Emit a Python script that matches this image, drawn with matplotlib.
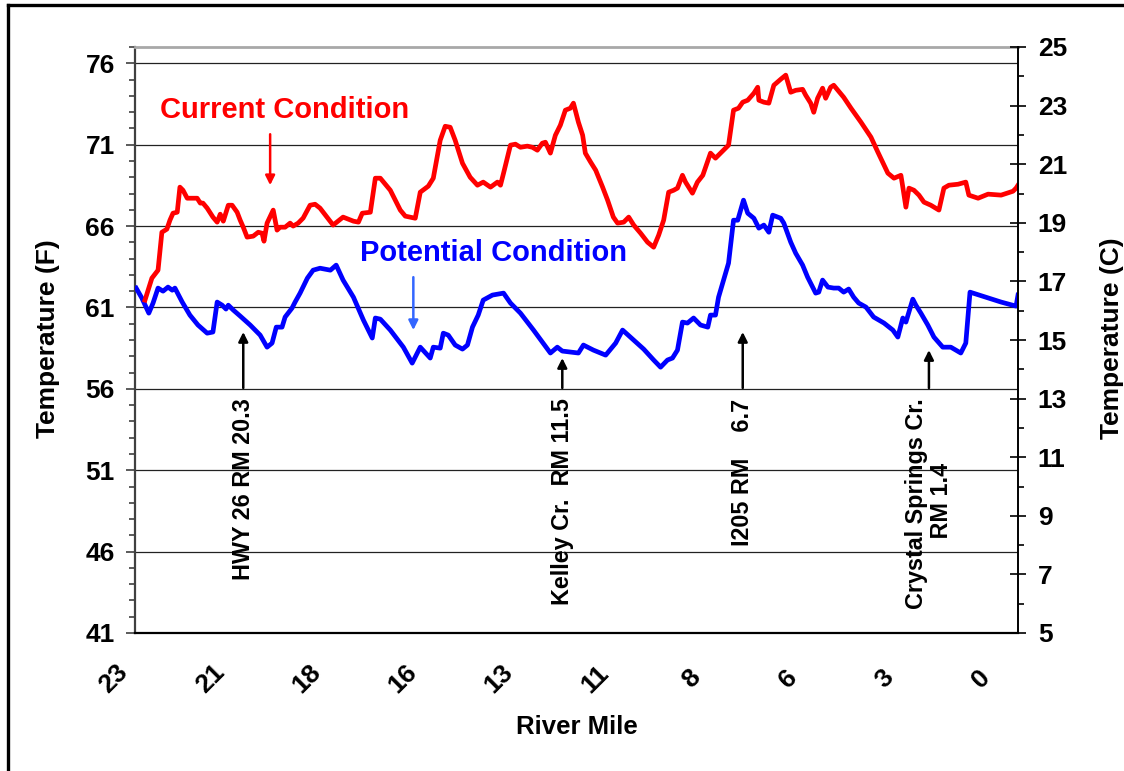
import matplotlib
matplotlib.use('Agg')
import matplotlib.pyplot as plt
import numpy as np
from matplotlib.lines import Line2D
from matplotlib.ticker import MultipleLocator, FixedLocator

plt.rcParams['font.family'] = ['Liberation Sans', 'DejaVu Sans']
plt.rcParams['font.weight'] = 'bold'

# ---------------- data ----------------
# Current Condition (river mile, temperature F)
cur_rm = [22.74, 22.56, 22.40, 22.30, 22.17, 22.09, 22.01, 21.90, 21.83, 21.75, 21.64, 21.49,
          21.38, 21.30, 21.23, 21.12, 20.97, 20.86, 20.78, 20.70, 20.57, 20.47, 20.34, 20.26,
          20.18, 20.08, 19.92, 19.79, 19.69, 19.64, 19.56, 19.40, 19.30, 19.22, 19.09, 18.96,
          18.88, 18.75, 18.62, 18.44, 18.31, 18.18, 17.84, 17.58, 17.31, 17.18, 17.08, 16.87,
          16.74, 16.61, 16.35, 16.09, 15.96, 15.70, 15.57, 15.36, 15.23, 15.05, 14.92, 14.79,
          14.66, 14.47, 14.27, 14.08, 13.93, 13.74, 13.56, 13.48, 13.40, 13.22, 13.09, 12.96,
          12.78, 12.65, 12.52, 12.39, 12.31, 12.18, 12.05, 11.92, 11.79, 11.66, 11.58, 11.45,
          11.34, 11.27, 11.13, 11.00, 10.82, 10.69, 10.54, 10.43, 10.27, 10.14, 10.01, 9.83,
          9.65, 9.49, 9.36, 9.23, 9.10, 8.97, 8.87, 8.74, 8.66, 8.48, 8.35, 8.21, 8.01, 7.88,
          7.54, 7.41, 7.28, 7.17, 7.04, 6.88, 6.78, 6.75, 6.62, 6.49, 6.36, 6.18, 6.05, 5.92,
          5.79, 5.61, 5.53, 5.40, 5.32, 5.22, 5.09, 5.01, 4.88, 4.80, 4.54, 4.35, 4.09, 3.83,
          3.65, 3.39, 3.23, 3.05, 3.00, 2.92, 2.84, 2.71, 2.58, 2.45, 2.27, 2.06, 1.93, 1.80,
          1.56, 1.36, 1.28, 1.04, 0.78, 0.44, 0.13, 0.05, 0.00]
cur_f = [61.45, 62.80, 63.29, 65.62, 65.81, 66.36, 66.79, 66.85, 68.39, 68.20, 67.71, 67.71,
         67.71, 67.41, 67.41, 67.10, 66.55, 66.24, 66.73, 66.30, 67.28, 67.28, 66.85, 66.36,
         65.93, 65.32, 65.38, 65.62, 65.56, 65.07, 66.18, 66.98, 65.75, 65.93, 65.93, 66.18,
         66.00, 66.18, 66.49, 67.28, 67.34, 67.10, 66.06, 66.55, 66.30, 66.24, 66.79, 66.85,
         68.94, 68.94, 68.20, 66.98, 66.61, 66.48, 68.08, 68.45, 68.94, 71.27, 72.13, 72.07,
         71.27, 69.86, 69.00, 68.51, 68.70, 68.39, 68.70, 68.51, 69.25, 70.97, 71.03, 70.84,
         70.91, 70.84, 70.66, 71.09, 71.15, 70.48, 71.58, 72.20, 73.12, 73.24, 73.55, 72.38,
         71.58, 70.48, 69.92, 69.43, 68.39, 67.59, 66.55, 66.18, 66.24, 66.55, 66.06, 65.56,
         65.01, 64.70, 65.44, 66.36, 68.08, 68.20, 68.33, 69.12, 68.70, 68.02, 68.70, 69.12,
         70.48, 70.17, 70.97, 73.12, 73.24, 73.61, 73.73, 74.16, 74.53, 73.73, 73.61, 73.55,
         74.65, 75.02, 75.27, 74.22, 74.34, 74.40, 74.04, 73.55, 72.99, 73.85, 74.47, 73.85,
         74.53, 74.65, 73.91, 73.24, 72.38, 71.46, 70.54, 69.25, 68.94, 69.12, 68.39, 67.16,
         68.33, 68.20, 67.90, 67.47, 67.28, 66.98, 68.33, 68.51, 68.57, 68.70, 67.90, 67.71,
         67.96, 67.90, 68.14, 68.33, 68.51]

# Potential Condition (river mile, temperature F)
pot_rm = [22.97, 22.82, 22.64, 22.53, 22.40, 22.27, 22.14, 22.03, 21.96, 21.77, 21.57, 21.36,
          21.12, 20.97, 20.86, 20.73, 20.63, 20.57, 20.44, 20.26, 20.00, 19.74, 19.56, 19.43,
          19.32, 19.17, 19.09, 18.91, 18.83, 18.70, 18.51, 18.36, 18.18, 17.91, 17.76, 17.58,
          17.31, 17.05, 16.82, 16.74, 16.61, 16.35, 16.01, 15.78, 15.57, 15.31, 15.23, 15.05,
          14.97, 14.84, 14.66, 14.47, 14.34, 14.21, 14.06, 13.93, 13.69, 13.40, 13.22, 12.96,
          12.62, 12.39, 12.18, 12.00, 11.87, 11.45, 11.32, 11.06, 10.74, 10.48, 10.30, 10.01,
          9.75, 9.49, 9.31, 9.13, 9.00, 8.87, 8.74, 8.61, 8.45, 8.27, 8.08, 8.01, 7.88, 7.80,
          7.54, 7.41, 7.30, 7.15, 7.04, 6.88, 6.75, 6.62, 6.49, 6.39, 6.26, 6.18, 6.10, 5.92,
          5.79, 5.61, 5.48, 5.27, 5.19, 5.09, 4.95, 4.80, 4.67, 4.54, 4.41, 4.28, 4.15, 3.96,
          3.76, 3.49, 3.26, 3.13, 3.00, 2.92, 2.74, 2.66, 2.53, 2.35, 2.19, 1.96, 1.75, 1.49,
          1.36, 1.25, 0.44, 0.05, 0.00]
pot_f = [62.19, 61.57, 60.65, 61.27, 62.19, 62.00, 62.25, 62.06, 62.19, 61.33, 60.53, 59.92,
         59.42, 59.49, 61.33, 61.14, 60.90, 61.14, 60.84, 60.47, 59.92, 59.30, 58.56, 58.81,
         59.79, 59.79, 60.41, 60.96, 61.33, 61.88, 62.80, 63.29, 63.41, 63.29, 63.60, 62.68,
         61.63, 60.22, 59.12, 60.35, 60.28, 59.61, 58.56, 57.58, 58.56, 57.89, 58.56, 58.50,
         59.42, 59.30, 58.69, 58.44, 58.69, 59.79, 60.53, 61.45, 61.76, 61.88, 61.27, 60.65,
         59.61, 58.87, 58.20, 58.56, 58.32, 58.20, 58.69, 58.38, 58.07, 58.81, 59.61, 58.99,
         58.44, 57.77, 57.33, 57.77, 57.89, 58.38, 60.10, 60.04, 60.35, 59.92, 59.79, 60.53,
         60.53, 61.63, 63.72, 66.36, 66.36, 67.59, 66.79, 66.48, 65.87, 66.06, 65.62, 66.67,
         66.55, 66.48, 66.18, 65.01, 64.33, 63.60, 62.86, 61.88, 61.94, 62.68, 62.25, 62.19,
         62.19, 61.94, 62.13, 61.63, 61.27, 61.02, 60.41, 60.04, 59.61, 59.18, 60.35, 60.10,
         61.51, 61.14, 60.65, 59.92, 59.18, 58.56, 58.56, 58.20, 58.81, 61.94, 61.33, 61.08,
         61.76]

xtick_labels = ['23', '21', '18', '16', '13', '11', '8', '6', '3', '0']
yticks_f = [41, 46, 51, 56, 61, 66, 71, 76]
yticks_c = [5, 7, 9, 11, 13, 15, 17, 19, 21, 23, 25]

# landmarks: (river mile, arrow tip temperature, label)
landmark_rm = [20.18, 11.87, 7.17, 2.32]
landmark_tip = [59.49, 57.89, 59.49, 58.38]
landmark_text = ['HWY 26 RM 20.3', 'Kelley Cr.  RM 11.5', 'I205 RM    6.7',
                 'Crystal Springs Cr.\n RM 1.4']

# ---------------- figure ----------------
W, H = 1124, 771
fig = plt.figure(figsize=(W / 100, H / 100), dpi=100)
ax = fig.add_axes([135 / W, 1 - 633 / H, (1018 - 135) / W, (633 - 47) / H])

ax.plot(pot_rm, pot_f, color='#0000FF', lw=3.4, solid_joinstyle='round', zorder=3)
ax.plot(cur_rm, cur_f, color='#FF0000', lw=3.4, solid_joinstyle='round', zorder=4)

# x tick labels (placed slightly left of their nominal spots, as in the original)
ax.set_xticks([])
label_pos = np.linspace(23.55, 0.97, len(xtick_labels))
for xp, lab in zip(label_pos, xtick_labels):
    ax.text(xp, -46 / 586, lab, transform=ax.get_xaxis_transform(), rotation=45,
            ha='center', va='center', fontsize=19, fontweight='bold', clip_on=False)

ax.set_xlim(23, 0)
ax.set_ylim(41, 77)

ax.set_yticks(yticks_f)
ax.yaxis.set_minor_locator(MultipleLocator(1))
ax.tick_params(axis='y', which='major', length=6.5, width=1.2, pad=8,
               labelsize=19, color='#404040')
ax.tick_params(axis='y', which='minor', length=4.3, width=1.2, color='#404040')
ax.yaxis.grid(True, which='major', color='#222222', lw=0.9, zorder=1)
ax.set_axisbelow(True)

ax.spines['left'].set_color('#404040')
ax.spines['left'].set_linewidth(1.6)
ax.spines['top'].set_color('#A8A8A8')
ax.spines['top'].set_linewidth(2)
ax.spines['bottom'].set_color('black')
ax.spines['bottom'].set_linewidth(1.6)
ax.spines['right'].set_visible(False)

ax.set_ylabel('Temperature (F)', fontsize=19, fontweight='bold')
ax.yaxis.set_label_coords(-0.085, 0.503)
ax.set_xlabel('River Mile', fontsize=18.5, fontweight='bold', va='center')
ax.xaxis.set_label_coords(0.5, -(727 - 633) / 586)

ax2 = ax.twinx()
ax2.set_ylim(5, 25)
ax2.set_yticks(yticks_c)
ax2.yaxis.set_minor_locator(FixedLocator(list(range(6, 25, 2))))
ax2.tick_params(axis='y', which='major', direction='inout', length=12, width=1.2,
                pad=8.3, labelsize=19)
ax2.tick_params(axis='y', which='minor', direction='out', length=4.3, width=1.2)
for s in ['left', 'top', 'bottom']:
    ax2.spines[s].set_visible(False)
ax2.spines['right'].set_color('black')
ax2.spines['right'].set_linewidth(1.4)
ax2.set_ylabel('Temperature (C)', fontsize=19, fontweight='bold')
ax2.yaxis.set_label_coords(1.093, 0.503)

# series labels with arrows
ax.text(19.11, 73.11, 'Current Condition', color='#FF0000', fontsize=21,
        fontweight='bold', ha='center', va='center')
ax.annotate('', xy=(19.48, 68.51), xytext=(19.48, 71.64),
            arrowprops=dict(arrowstyle='-|>', color='#FF0000', lw=1.8,
                            mutation_scale=14, shrinkA=0, shrinkB=0))
ax.text(13.66, 64.34, 'Potential Condition', color='#0000FF', fontsize=21,
        fontweight='bold', ha='center', va='center')
ax.annotate('', xy=(15.75, 59.61), xytext=(15.75, 62.86),
            arrowprops=dict(arrowstyle='-|>', color='#3366FF', lw=1.8,
                            mutation_scale=14, shrinkA=0, shrinkB=0))

# landmarks
for rm, tip, txt in zip(landmark_rm, landmark_tip, landmark_text):
    ax.annotate('', xy=(rm, tip), xytext=(rm, 56.05),
                arrowprops=dict(arrowstyle='-|>', color='black', lw=1.8,
                                mutation_scale=14, shrinkA=0, shrinkB=0), zorder=5)
    ax.text(rm, 55.4, txt, rotation=90, ha='center', va='top', fontsize=16.8,
            fontweight='bold', multialignment='center', linespacing=1.15, zorder=5)

# outer frame
fig.add_artist(Line2D([8 / W, 8 / W], [0, 1 - 5 / H], transform=fig.transFigure,
                      color='black', lw=2.4))
fig.add_artist(Line2D([8 / W, 1], [1 - 5 / H, 1 - 5 / H], transform=fig.transFigure,
                      color='black', lw=2.4))

fig.savefig('out.png', dpi=100)
